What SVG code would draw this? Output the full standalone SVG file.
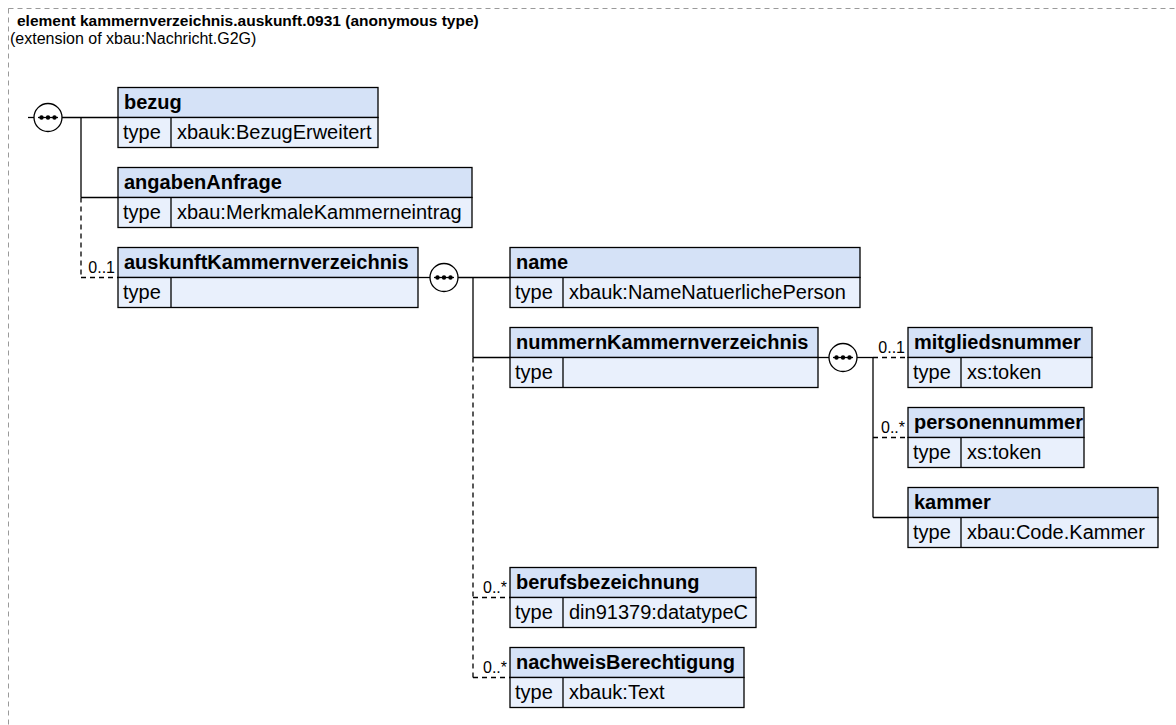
<svg xmlns="http://www.w3.org/2000/svg" width="1176" height="725" viewBox="0 0 1176 725">
<defs>
<style>
.frame{fill:none;stroke:#9a9a9a;stroke-width:1;stroke-dasharray:5,4}
.title{font-family:"Liberation Sans",Arial,sans-serif;font-size:15.5px;font-weight:bold;fill:#000}
.sub{font-family:"Liberation Sans",Arial,sans-serif;font-size:16px;fill:#000}
.hd{fill:#d5e2f7;stroke:#000;stroke-width:1.3}
.tr{fill:#e9f0fc;stroke:#000;stroke-width:1.3}
.dv{stroke:#000;stroke-width:1.3}
.nm{font-family:"Liberation Sans",Arial,sans-serif;font-size:20px;font-weight:bold;fill:#000}
.tx{font-family:"Liberation Sans",Arial,sans-serif;font-size:20px;fill:#000}
.card{font-family:"Liberation Sans",Arial,sans-serif;font-size:16px;fill:#000;text-anchor:end}
.ln{stroke:#000;stroke-width:1.3;fill:none}
.dl{stroke:#000;stroke-width:1.3;fill:none;stroke-dasharray:5,4}
.seq{fill:#fff;stroke:#000;stroke-width:1.3}
</style>
<g id="seqsym">
<circle class="seq" cx="0" cy="0" r="14"/>
<line x1="-10" y1="0" x2="10" y2="0" stroke="#000" stroke-width="1.3"/>
<circle cx="-6.5" cy="0" r="2.2" fill="#000"/>
<circle cx="0" cy="0" r="2.2" fill="#000"/>
<circle cx="6.5" cy="0" r="2.2" fill="#000"/>
</g>
</defs>
<rect x="0" y="0" width="1176" height="725" fill="#fff"/>
<rect class="frame" x="8.5" y="8.5" width="1200" height="760"/>
<text class="title" x="17" y="26">element kammernverzeichnis.auskunft.0931 (anonymous type)</text>
<text class="sub" x="10" y="44">(extension of xbau:Nachricht.G2G)</text>

<g id="connectors">
<line class="ln" x1="28" y1="117.5" x2="34" y2="117.5"/>
<line class="ln" x1="62" y1="117.5" x2="118" y2="117.5"/>
<line class="ln" x1="81" y1="117.5" x2="81" y2="197.5"/>
<line class="ln" x1="81" y1="197.5" x2="118" y2="197.5"/>
<line class="dl" x1="81" y1="197.5" x2="81" y2="277.5"/>
<line class="dl" x1="81" y1="277.5" x2="118" y2="277.5"/>
<text class="card" x="115" y="273">0..1</text>

<line class="ln" x1="418" y1="277.5" x2="430" y2="277.5"/>
<line class="ln" x1="458" y1="277.5" x2="510" y2="277.5"/>
<line class="ln" x1="473" y1="277.5" x2="473" y2="357.5"/>
<line class="ln" x1="473" y1="357.5" x2="510" y2="357.5"/>
<line class="dl" x1="473" y1="357.5" x2="473" y2="677.5"/>
<line class="dl" x1="473" y1="597.5" x2="510" y2="597.5"/>
<line class="dl" x1="473" y1="677.5" x2="510" y2="677.5"/>
<text class="card" x="507" y="593">0..*</text>
<text class="card" x="507" y="673">0..*</text>

<line class="ln" x1="818" y1="357.5" x2="829" y2="357.5"/>
<line class="ln" x1="857" y1="357.5" x2="873" y2="357.5"/>
<line class="ln" x1="873" y1="357.5" x2="873" y2="517.5"/>
<line class="dl" x1="873" y1="357.5" x2="908" y2="357.5"/>
<line class="dl" x1="873" y1="437.5" x2="908" y2="437.5"/>
<line class="ln" x1="873" y1="517.5" x2="908" y2="517.5"/>
<text class="card" x="905" y="353">0..1</text>
<text class="card" x="905" y="433">0..*</text>

<use href="#seqsym" x="48" y="117.5"/>
<use href="#seqsym" x="444" y="277.5"/>
<use href="#seqsym" x="843" y="357.5"/>
</g>

<g id="bezug">
<rect class="hd" x="118" y="87.5" width="260" height="30"/>
<rect class="tr" x="118" y="117.5" width="260" height="30"/>
<line class="dv" x1="171" y1="117.5" x2="171" y2="147.5"/>
<text class="nm" x="124" y="109">bezug</text>
<text class="tx" x="123" y="139">type</text>
<text class="tx" x="177" y="139">xbauk:BezugErweitert</text>
</g>

<g id="angabenAnfrage">
<rect class="hd" x="118" y="167.5" width="354" height="30"/>
<rect class="tr" x="118" y="197.5" width="354" height="30"/>
<line class="dv" x1="171" y1="197.5" x2="171" y2="227.5"/>
<text class="nm" x="124" y="189">angabenAnfrage</text>
<text class="tx" x="123" y="219">type</text>
<text class="tx" x="177" y="219">xbau:MerkmaleKammerneintrag</text>
</g>

<g id="auskunftKammernverzeichnis">
<rect class="hd" x="118" y="247.5" width="300" height="30"/>
<rect class="tr" x="118" y="277.5" width="300" height="30"/>
<line class="dv" x1="171" y1="277.5" x2="171" y2="307.5"/>
<text class="nm" x="124" y="269">auskunftKammernverzeichnis</text>
<text class="tx" x="123" y="299">type</text>
</g>

<g id="name">
<rect class="hd" x="510" y="247.5" width="350" height="30"/>
<rect class="tr" x="510" y="277.5" width="350" height="30"/>
<line class="dv" x1="563" y1="277.5" x2="563" y2="307.5"/>
<text class="nm" x="516" y="269">name</text>
<text class="tx" x="515" y="299">type</text>
<text class="tx" x="569" y="299">xbauk:NameNatuerlichePerson</text>
</g>

<g id="nummernKammernverzeichnis">
<rect class="hd" x="510" y="327.5" width="308" height="30"/>
<rect class="tr" x="510" y="357.5" width="308" height="30"/>
<line class="dv" x1="563" y1="357.5" x2="563" y2="387.5"/>
<text class="nm" x="516" y="349">nummernKammernverzeichnis</text>
<text class="tx" x="515" y="379">type</text>
</g>

<g id="mitgliedsnummer">
<rect class="hd" x="908" y="327.5" width="184" height="30"/>
<rect class="tr" x="908" y="357.5" width="184" height="30"/>
<line class="dv" x1="961" y1="357.5" x2="961" y2="387.5"/>
<text class="nm" x="914" y="349">mitgliedsnummer</text>
<text class="tx" x="913" y="379">type</text>
<text class="tx" x="967" y="379">xs:token</text>
</g>

<g id="personennummer">
<rect class="hd" x="908" y="407.5" width="176" height="30"/>
<rect class="tr" x="908" y="437.5" width="176" height="30"/>
<line class="dv" x1="961" y1="437.5" x2="961" y2="467.5"/>
<text class="nm" x="914" y="429">personennummer</text>
<text class="tx" x="913" y="459">type</text>
<text class="tx" x="967" y="459">xs:token</text>
</g>

<g id="kammer">
<rect class="hd" x="908" y="487.5" width="250" height="30"/>
<rect class="tr" x="908" y="517.5" width="250" height="30"/>
<line class="dv" x1="961" y1="517.5" x2="961" y2="547.5"/>
<text class="nm" x="914" y="509">kammer</text>
<text class="tx" x="913" y="539">type</text>
<text class="tx" x="967" y="539">xbau:Code.Kammer</text>
</g>

<g id="berufsbezeichnung">
<rect class="hd" x="510" y="567.5" width="246" height="30"/>
<rect class="tr" x="510" y="597.5" width="246" height="30"/>
<line class="dv" x1="563" y1="597.5" x2="563" y2="627.5"/>
<text class="nm" x="516" y="589">berufsbezeichnung</text>
<text class="tx" x="515" y="619">type</text>
<text class="tx" x="569" y="619">din91379:datatypeC</text>
</g>

<g id="nachweisBerechtigung">
<rect class="hd" x="510" y="647.5" width="234" height="30"/>
<rect class="tr" x="510" y="677.5" width="234" height="30"/>
<line class="dv" x1="563" y1="677.5" x2="563" y2="707.5"/>
<text class="nm" x="516" y="669">nachweisBerechtigung</text>
<text class="tx" x="515" y="699">type</text>
<text class="tx" x="569" y="699">xbauk:Text</text>
</g>
</svg>
